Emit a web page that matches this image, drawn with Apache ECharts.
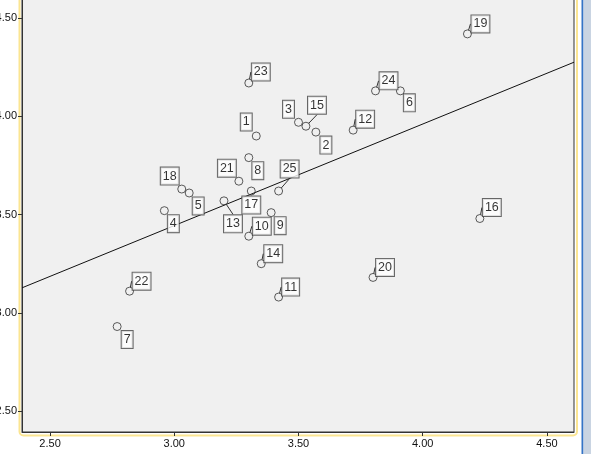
<!DOCTYPE html>
<html>
<head>
<meta charset="utf-8">
<script src="https://cdn.jsdelivr.net/npm/echarts@6/dist/echarts.min.js"></script>
<style>
html,body{margin:0;padding:0;background:#fff;}
#chart{width:591px;height:454px;}
</style>
</head>
<body>
<div id="chart"></div>
<script>
// ---- data ----
const caseIds = ['1','2','3','4','5','6','7','8','9','10','11','12','13','14','15','16','17','18','19','20','21','22','23','24','25'];
const xValues = [3.33,3.57,3.50,2.96,3.06,3.91,2.77,3.30,3.39,3.30,3.42,3.72,3.20,3.35,3.53,4.23,3.31,3.03,4.18,3.80,3.26,2.82,3.30,3.81,3.42];
const yValues = [3.90,3.92,3.97,3.52,3.61,4.13,2.93,3.79,3.51,3.39,3.08,3.93,3.57,3.25,3.95,3.48,3.62,3.63,4.42,3.18,3.67,3.11,4.17,4.13,3.62];
const xTicks = [2.5, 3.0, 3.5, 4.0, 4.5];
const yTicks = [2.5, 3.0, 3.5, 4.0, 4.5];
const fitIntercept = 1.893;
const fitSlope = 0.517;

// ---- label placement (layout, pixels) ----
const labelDx = [-10,10,-10,9,9,9,10,9,9,13,12,12,9,12,11,12,0,-12,13,12,-12,12,12,13,11];
const labelDy = [-14,13,-13,13,13,12,13,13,13,-10,-10,-11,23,-10,-21,-11,14,-13,-10,-10,-13,-10,-11,-10,-22];
const labelLeader = [0,0,0,0,0,0,0,0,0,1,1,1,1,1,1,1,0,0,1,1,0,1,1,1,1];

const xMin = 2.387, xMax = 4.609, yMin = 2.393, yMax = 4.613;

const points = xValues.map((x, i) => ({
  value: [x, yValues[i]], name: caseIds[i],
  labelLine: { show: !!labelLeader[i] }
}));
const fitLine = [xMin, xMax].map(x => [x, fitIntercept + fitSlope * x]);

const chart = echarts.init(document.getElementById('chart'), null, { renderer: 'canvas' });
chart.setOption({
  animation: false,
  backgroundColor: '#ffffff',
  graphic: [
    { type: 'rect', shape: { x: 19.5, y: -20, width: 557.5, height: 455.5, r: 4 },
      style: { fill: 'none', stroke: '#fbe591', lineWidth: 2 }, z: -1 },
    { type: 'rect', shape: { x: 581.5, y: 0, width: 2, height: 454 }, style: { fill: '#3574c6' } },
    { type: 'rect', shape: { x: 583.5, y: 0, width: 8, height: 454 }, style: { fill: '#c9d4e2' } }
  ],
  grid: {
    left: 22, right: 17, top: -4, bottom: 22,
    containLabel: false, outerBoundsMode: 'none',
    show: true, backgroundColor: '#f0f0f0', borderColor: '#333', borderWidth: 1
  },
  xAxis: {
    type: 'value', min: xMin, max: xMax,
    axisLine: { show: true, lineStyle: { color: '#333', width: 1 } },
    axisTick: { show: true, length: 4, customValues: xTicks, lineStyle: { color: '#333' } },
    axisLabel: { customValues: xTicks, formatter: v => v.toFixed(2), color: '#111',
      fontFamily: 'Liberation Sans, Arial, sans-serif', fontSize: 11, margin: 6 },
    splitLine: { show: false }
  },
  yAxis: {
    type: 'value', min: yMin, max: yMax,
    axisLine: { show: true, lineStyle: { color: '#333', width: 1 } },
    axisTick: { show: true, length: 4, customValues: yTicks, lineStyle: { color: '#333' } },
    axisLabel: { customValues: yTicks, formatter: v => v.toFixed(2), color: '#111',
      fontFamily: 'Liberation Sans, Arial, sans-serif', fontSize: 11, margin: 5 },
    splitLine: { show: false }
  },
  series: [
    {
      type: 'line', data: fitLine, symbol: 'none', silent: true, clip: true,
      lineStyle: { color: '#111', width: 1 }, z: 2
    },
    {
      type: 'scatter', data: points, symbol: 'circle', symbolSize: 8, z: 3,
      itemStyle: { color: 'rgba(0,0,0,0)', borderColor: '#333', borderWidth: 1 },
      label: {
        show: true, position: 'inside', formatter: p => p.name,
        color: '#000', fontFamily: "'Liberation Sans Narrow', 'Arial Narrow', 'Liberation Sans', sans-serif",
        fontSize: 12.5, lineHeight: 13,
        backgroundColor: '#ffffff', borderColor: '#444', borderWidth: 1,
        padding: [2, 2, 2, 2]
      },
      labelLine: { show: true, length2: 0, lineStyle: { color: '#333', width: 1 } },
      labelLayout: p => ({ dx: labelDx[p.dataIndex], dy: labelDy[p.dataIndex], hideOverlap: false })
    }
  ]
});
</script>
</body>
</html>
